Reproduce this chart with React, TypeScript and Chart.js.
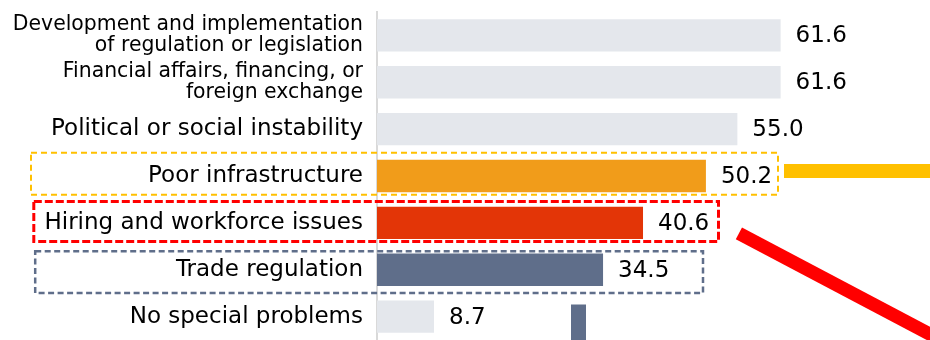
import React, { useEffect, useRef } from "react";
import { Chart, registerables } from "chart.js";

Chart.register(...registerables);

// ---- data ----
const categories: (string | string[])[] = [
  ["Development and implementation", "of regulation or legislation"],
  ["Financial affairs, financing, or", "foreign exchange"],
  "Political or social instability",
  "Poor infrastructure",
  "Hiring and workforce issues",
  "Trade regulation",
  "No special problems",
];
const values = [61.6, 61.6, 55.0, 50.2, 40.6, 34.5, 8.7];
const barColors = ["#E4E7EC", "#E4E7EC", "#E4E7EC", "#F19C1A", "#E33507", "#5F6E8A", "#E4E7EC"];
const axisMax = 84.4;

// ---- layout / style constants (decorations) ----
const FONT = '"DejaVu Sans", Verdana, sans-serif';
const highlightBoxes = [
  { left: 31, right: 778, top: 152.7, bottom: 194.7, color: "#FFC000", width: 2, dash: [6, 4] },
  { left: 33.8, right: 718.5, top: 201.5, bottom: 241.5, color: "#FF0000", width: 3, dash: [8, 3] },
  { left: 35.2, right: 703, top: 251.2, bottom: 293, color: "#5F6E8A", width: 2.5, dash: [6, 3.5] },
];

const valueLabels = {
  id: "valueLabels",
  afterDatasetsDraw(chart: any) {
    const ctx = chart.ctx;
    const meta = chart.getDatasetMeta(0);
    ctx.save();
    ctx.font = `23px ${FONT}`;
    ctx.fillStyle = "#000";
    ctx.textAlign = "left";
    ctx.textBaseline = "middle";
    meta.data.forEach((el: any, i: number) => {
      ctx.fillText(values[i].toFixed(1), el.x + 15, el.y + 1);
    });
    ctx.restore();
  },
};

const decorations = {
  id: "decorations",
  afterDraw(chart: any) {
    const ctx = chart.ctx;
    ctx.save();
    highlightBoxes.forEach((b) => {
      ctx.strokeStyle = b.color;
      ctx.lineWidth = b.width;
      ctx.setLineDash(b.dash);
      ctx.strokeRect(b.left, b.top, b.right - b.left, b.bottom - b.top);
    });
    ctx.setLineDash([]);
    ctx.lineCap = "butt";
    ctx.strokeStyle = "#FFC000";
    ctx.lineWidth = 14;
    ctx.beginPath();
    ctx.moveTo(784, 171);
    ctx.lineTo(chart.width + 5, 171);
    ctx.stroke();

    ctx.strokeStyle = "#FF0000";
    ctx.lineWidth = 13.3;
    ctx.beginPath();
    ctx.moveTo(738.9, 233.3);
    ctx.lineTo(980, 233.3 + (980 - 738.9) * 0.528);
    ctx.stroke();

    ctx.fillStyle = "#5F6E8A";
    ctx.fillRect(571, 304.5, 15, 40);
    ctx.restore();
  },
};

export default function App() {
  const ref = useRef<HTMLCanvasElement>(null);
  useEffect(() => {
    if (!ref.current) return;
    const chart = new Chart(ref.current, {
      type: "bar",
      data: {
        labels: categories as any,
        datasets: [
          {
            data: values,
            backgroundColor: barColors,
            barPercentage: 0.69,
            categoryPercentage: 1.0,
          },
        ],
      },
      options: {
        indexAxis: "y",
        responsive: false,
        animation: false,
        layout: { padding: { top: 12, left: 0, right: 0, bottom: 0 } },
        plugins: { legend: { display: false }, tooltip: { enabled: false } },
        scales: {
          x: { display: false, min: 0, max: axisMax },
          y: {
            grid: { display: false },
            border: { display: true, color: "#D9D9D9", width: 2 },
            afterFit: (s: any) => {
              s.width = 377;
              s.paddingTop = 0;
              s.paddingBottom = 0;
            },
            ticks: {
              color: "#000",
              padding: 6,
              autoSkip: false,
              font: (c: any) =>
                Array.isArray(categories[c.index])
                  ? { family: FONT, size: 20.4, lineHeight: 1.03 }
                  : { family: FONT, size: 23 },
            },
          },
        },
      },
      plugins: [valueLabels, decorations],
    });
    return () => chart.destroy();
  }, []);
  return (
    <canvas
      ref={ref}
      width={930}
      height={340}
      style={{ position: "absolute", left: 0, top: 0, display: "block" }}
    />
  );
}
